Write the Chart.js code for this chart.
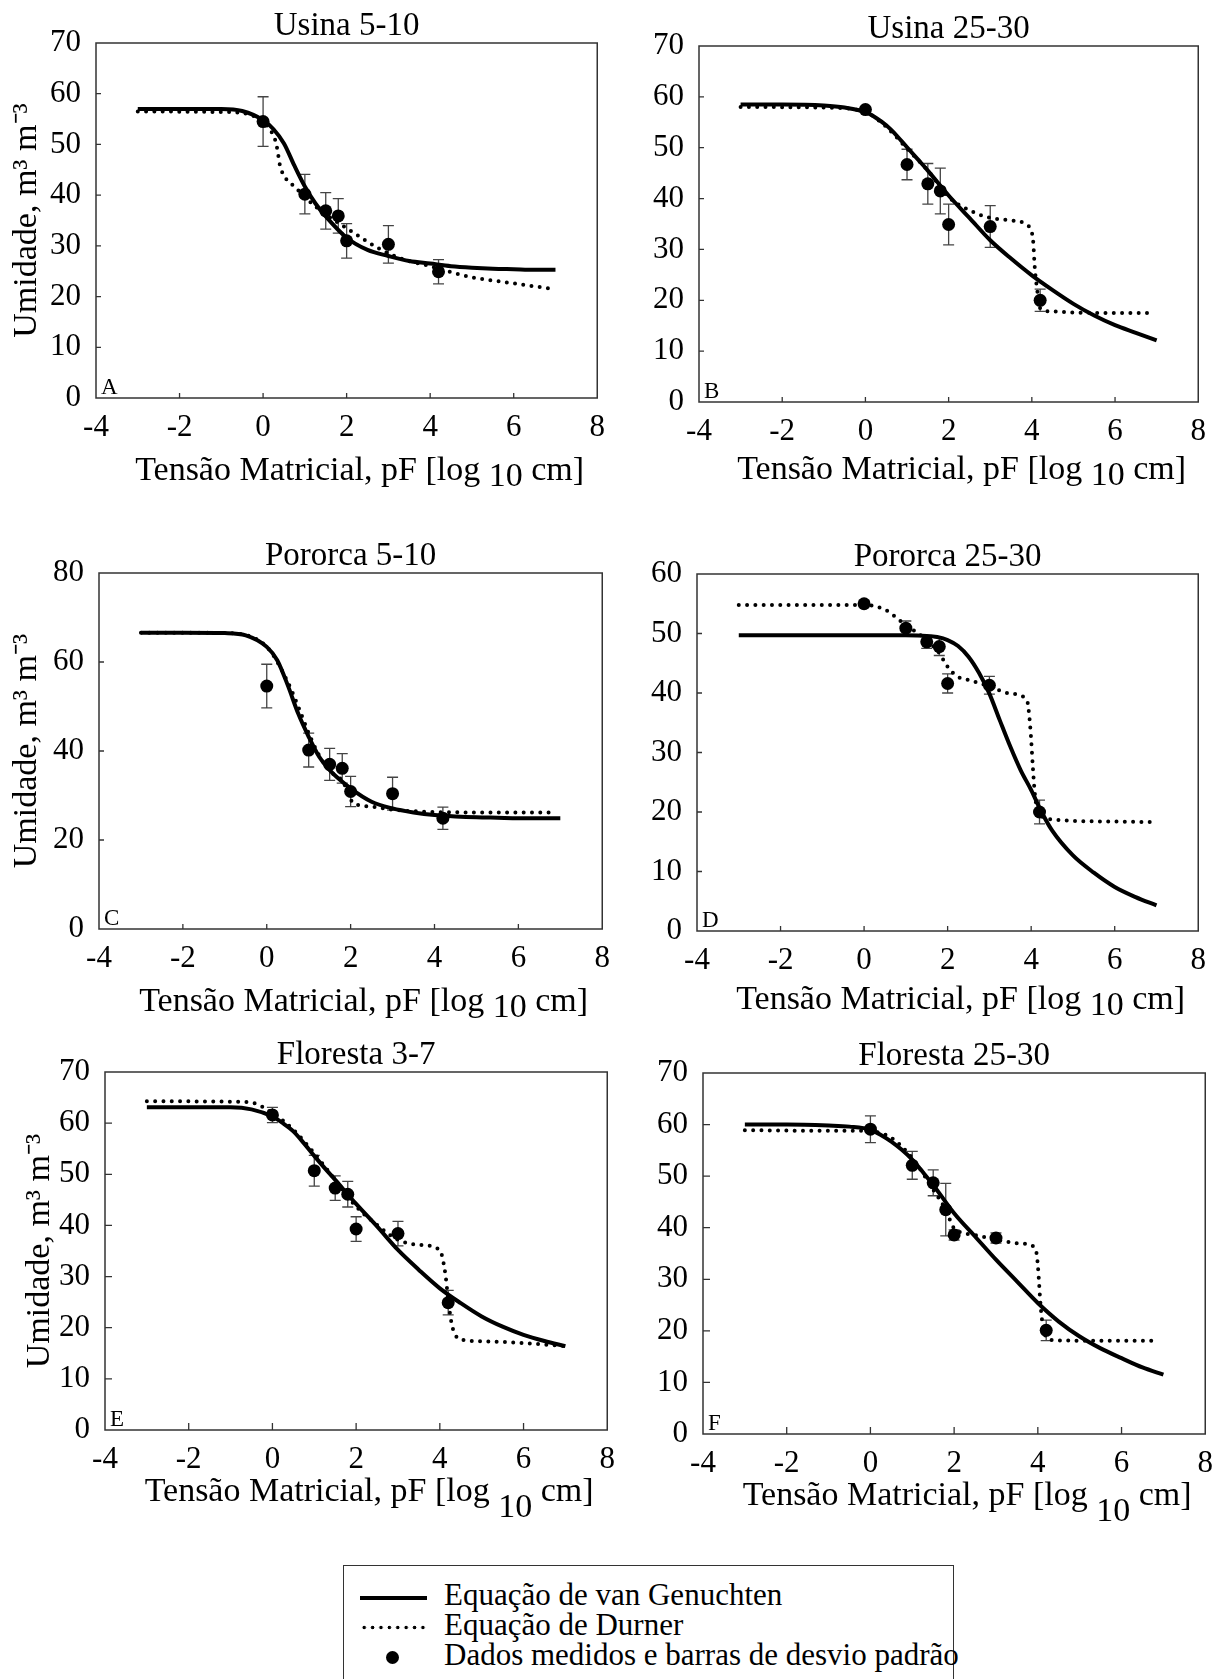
<!DOCTYPE html>
<html>
<head>
<meta charset="utf-8">
<script src="https://cdn.jsdelivr.net/npm/chart.js@4.4.1/dist/chart.umd.min.js"></script>
<style>
html,body{margin:0;padding:0;background:#fff;overflow:hidden}
#fig{position:relative;width:1225px;height:1679px;background:#fff;overflow:hidden;font-family:'Liberation Serif','Times New Roman',serif}
#fig canvas{position:absolute}
#legend{position:absolute;left:343px;top:1565px;width:611px;height:200px;border:1.5px solid #333;box-sizing:border-box}
#legend .lt{position:absolute;left:100px;font-size:31px;line-height:31px;white-space:nowrap;color:#000}
#legend .solid{position:absolute;left:15.5px;width:67px;height:4px;background:#000}
#legend .dotted{position:absolute;left:15.5px;width:67px;height:5px;background-image:radial-gradient(circle at center,#000 1.5px,rgba(0,0,0,0) 2.1px);background-size:8.4px 5px;background-repeat:repeat-x}
#legend .ldot{position:absolute;width:13px;height:13px;border-radius:50%;background:#000}
</style>
</head>
<body>
<div id="fig">
<canvas id="cA"></canvas>
<canvas id="cB"></canvas>
<canvas id="cC"></canvas>
<canvas id="cD"></canvas>
<canvas id="cE"></canvas>
<canvas id="cF"></canvas>
<div id="legend">
  <div class="solid" style="top:29.5px"></div>
  <div class="lt" style="top:13px">Equação de van Genuchten</div>
  <div class="dotted" style="top:59px"></div>
  <div class="lt" style="top:43px">Equação de Durner</div>
  <div class="ldot" style="left:42.3px;top:85px"></div>
  <div class="lt" style="top:73px">Dados medidos e barras de desvio padrão</div>
</div>
</div>
<script>
// ---------- data ----------
const pF = [0, 1, 1.5, 1.8, 2, 3, 4.2];
const xTickValues = [-4, -2, 0, 2, 4, 6, 8];
const yTicks70 = [0, 10, 20, 30, 40, 50, 60, 70];
const yTicks80 = [0, 20, 40, 60, 80];
const yTicks60 = [0, 10, 20, 30, 40, 50, 60];
const curveX = [-3, -2, -1, -0.5, 0, 0.25, 0.5, 0.75, 1, 1.25, 1.5, 2, 2.5, 3, 3.5, 4, 4.5, 5, 5.5, 6, 6.5, 7];

// A - Usina 5-10
const usina510Meas = [54.5, 40.2, 36.9, 35.9, 31.0, 30.3, 24.9];
const usina510Sd = [4.9, 3.9, 3.6, 3.4, 3.4, 3.7, 2.4];
const usina510VgY = [57.0, 57.0, 57.0, 56.6, 54.8, 53.0, 50.2, 45.8, 41.7, 38.4, 35.8, 31.6, 29.2, 28.0, 27.0, 26.5, 26.0, 25.7, 25.5, 25.4, 25.3, 25.3];
const usina510DuX = [-3, -1, -0.5, 0, 0.2, 0.3, 0.35, 0.4, 0.55, 0.75, 1, 1.5, 2, 2.5, 3, 3.5, 4, 4.5, 5, 6, 6.85];
const usina510DuY = [56.5, 56.4, 56.2, 54.5, 52.5, 50.6, 48.6, 46.0, 43.2, 41.7, 39.6, 36.2, 33.5, 30.8, 28.5, 27.0, 26.0, 24.8, 23.8, 22.6, 21.6];

// B - Usina 25-30
const usina2530Meas = [57.5, 46.7, 42.9, 41.5, 34.9, 34.5, 20.0];
const usina2530Sd = [0.5, 3.0, 4.0, 4.5, 4.0, 4.1, 2.2];
const usina2530VgY = [58.5, 58.5, 58.3, 57.9, 57.0, 55.9, 54.4, 52.4, 50.1, 47.8, 45.5, 40.6, 36.2, 31.8, 28.2, 24.9, 22.0, 19.3, 17.0, 15.1, 13.6, 12.1];
const usina2530DuX = [-3, -1, 0, 0.5, 1, 1.5, 2, 2.5, 3, 3.5, 3.8, 3.98, 4.03, 4.07, 4.12, 4.21, 4.5, 5, 6, 6.85];
const usina2530DuY = [58.0, 57.9, 57.0, 54.1, 49.8, 45.5, 40.3, 37.7, 36.2, 35.7, 35.2, 33.7, 31.8, 26.5, 22.6, 18.3, 17.8, 17.6, 17.5, 17.5];

// C - Pororca 5-10
const pororca510Meas = [54.6, 40.2, 37.0, 36.1, 30.9, 30.4, 24.9];
const pororca510Sd = [4.9, 3.8, 3.6, 3.3, 3.4, 3.7, 2.5];
const pororca510VgY = [66.6, 66.6, 66.5, 66.0, 63.4, 60.4, 54.8, 48.4, 43.2, 38.7, 35.7, 31.6, 28.6, 27.1, 26.2, 25.6, 25.3, 25.1, 25.0, 24.9, 24.9, 24.9];
const pororca510DuX = [-3, -1, 0, 0.5, 0.75, 1, 1.25, 1.5, 1.8, 1.95, 2.05, 2.5, 3, 4, 5, 6, 6.9];
const pororca510DuY = [66.6, 66.5, 63.4, 55.5, 50.0, 44.0, 39.0, 35.5, 33.3, 30.5, 28.4, 27.5, 26.8, 26.3, 26.2, 26.2, 26.2];

// D - Pororca 25-30
const pororca2530Meas = [55.0, 50.9, 48.6, 47.8, 41.6, 41.3, 20.0];
const pororca2530Sd = [0.5, 1.2, 1.1, 1.5, 1.6, 1.5, 2.0];
const pororca2530VgX = [-3, -1, 0, 1, 1.5, 1.75, 2, 2.25, 2.5, 2.75, 3, 3.25, 3.5, 3.75, 4, 4.25, 4.5, 5, 5.5, 6, 6.5, 7];
const pororca2530VgY = [49.7, 49.7, 49.7, 49.7, 49.6, 49.4, 48.9, 47.9, 46.1, 43.4, 39.9, 35.4, 31.0, 27.0, 23.7, 20.0, 16.9, 12.7, 9.8, 7.4, 5.7, 4.3];
const pororca2530DuX = [-3, -1, 0, 0.5, 1, 1.5, 1.8, 2, 2.25, 2.5, 3, 3.5, 3.9, 3.94, 3.99, 4.04, 4.08, 4.13, 4.27, 4.6, 5, 6, 6.95];
const pororca2530DuY = [54.8, 54.8, 54.8, 54.0, 51.4, 48.9, 46.7, 44.4, 42.7, 42.2, 41.1, 39.9, 38.8, 37.1, 33.2, 27.6, 23.7, 20.9, 19.2, 18.7, 18.5, 18.4, 18.3];

// E - Floresta 3-7
const floresta37Meas = [61.6, 50.7, 47.3, 46.1, 39.3, 38.4, 24.9];
const floresta37Sd = [1.5, 3.0, 2.4, 2.5, 2.4, 2.4, 2.4];
const floresta37VgY = [63.1, 63.1, 63.1, 62.7, 61.3, 60.0, 58.4, 56.1, 53.6, 51.2, 48.9, 44.2, 39.8, 35.2, 31.3, 27.7, 24.8, 22.2, 20.2, 18.6, 17.4, 16.4];
const floresta37DuX = [-3, -1, -0.5, 0, 0.5, 1, 1.5, 2, 2.5, 3, 3.5, 4.0, 4.09, 4.14, 4.2, 4.28, 4.37, 4.56, 5.2, 6, 7];
const floresta37DuY = [64.3, 64.2, 64.0, 62.0, 58.7, 54.1, 48.9, 43.7, 40.1, 37.2, 36.2, 35.2, 32.6, 30.0, 25.5, 20.9, 18.6, 17.6, 17.3, 17.0, 16.4];

// F - Floresta 25-30
const floresta2530Meas = [59.1, 52.1, 48.7, 43.5, 38.6, 38.0, 20.1];
const floresta2530Sd = [2.6, 2.7, 2.5, 5.1, 1.0, 1.0, 2.0];
const floresta2530VgY = [60.0, 60.0, 59.8, 59.6, 59.0, 58.0, 56.7, 55.1, 53.2, 50.8, 48.3, 42.8, 38.3, 33.8, 29.6, 25.4, 21.8, 18.9, 16.6, 14.7, 12.9, 11.5];
const floresta2530DuX = [-3, -1, -0.5, 0, 0.5, 1, 1.5, 1.8, 2, 2.5, 3, 3.5, 3.93, 3.98, 4.02, 4.05, 4.09, 4.16, 4.35, 5, 6, 6.85];
const floresta2530DuY = [58.9, 58.8, 58.8, 58.7, 57.4, 53.5, 47.4, 43.5, 39.9, 38.6, 37.7, 37.0, 36.2, 34.4, 30.5, 26.7, 22.8, 19.5, 18.2, 18.1, 18.1, 18.1];

const titles = ['Usina 5-10', 'Usina 25-30', 'Pororca 5-10', 'Pororca 25-30', 'Floresta 3-7', 'Floresta 25-30'];
const letters = ['A', 'B', 'C', 'D', 'E', 'F'];
const yAxisTitle = 'Umidade, m³ m⁻³';
const xTitleParts = ['Tensão Matricial, pF [log ', '10', ' cm]'];

// ---------- layout (pixels) ----------
const FONT = "'Liberation Serif','Times New Roman',serif";
Chart.defaults.font.family = FONT;
Chart.defaults.color = '#000';

const panels = [
  {id:'cA', t:0, meas:usina510Meas, sd:usina510Sd, vgX:curveX, vgY:usina510VgY, duX:usina510DuX, duY:usina510DuY, yt:yTicks70,
   box:{l:95.7,t:43.3,r:602.2,b:397.7}, yTitle:true, yTitleCx:27.7, xBase:82.3, sub:6, tl:5, right:false},
  {id:'cB', t:1, meas:usina2530Meas, sd:usina2530Sd, vgX:curveX, vgY:usina2530VgY, duX:usina2530DuX, duY:usina2530DuY, yt:yTicks70,
   box:{l:699.4,t:45.7,r:1205,b:401.7}, yTitle:false, xBase:76.6, sub:6, tl:5, right:true},
  {id:'cC', t:2, meas:pororca510Meas, sd:pororca510Sd, vgX:curveX, vgY:pororca510VgY, duX:pororca510DuX, duY:pororca510DuY, yt:yTicks80,
   box:{l:98.9,t:572.7,r:607,b:929.3}, yTitle:true, yTitleCx:27.7, xBase:82.4, sub:6, tl:5, right:false},
  {id:'cD', t:3, meas:pororca2530Meas, sd:pororca2530Sd, vgX:pororca2530VgX, vgY:pororca2530VgY, duX:pororca2530DuX, duY:pororca2530DuY, yt:yTicks60,
   box:{l:697.1,t:574,r:1205.4,b:930.7}, yTitle:false, xBase:77.6, sub:6, tl:5, right:true},
  {id:'cE', t:4, meas:floresta37Meas, sd:floresta37Sd, vgX:curveX, vgY:floresta37VgY, duX:floresta37DuX, duY:floresta37DuY, yt:yTicks70,
   box:{l:104.8,t:1072.3,r:612.1,b:1429.5}, yTitle:true, yTitleCx:40.5, xBase:70.5, sub:16, tl:7, right:false},
  {id:'cF', t:5, meas:floresta2530Meas, sd:floresta2530Sd, vgX:curveX, vgY:floresta2530VgY, duX:floresta2530DuX, duY:floresta2530DuY, yt:yTicks70,
   box:{l:703.3,t:1073.3,r:1212,b:1434}, yTitle:false, xBase:71, sub:16, tl:7, right:true}
];

function pts(xs, ys) { return xs.map((x, i) => ({x: x, y: ys[i]})); }

function makePanel(p) {
  const canvas = document.getElementById(p.id);
  const titleH = 34, Hx = 100, padR = p.right ? 12 : 14;
  const bl = Math.round(p.box.l), bt = Math.round(p.box.t), br = Math.round(p.box.r), bb = Math.round(p.box.b);
  const left = p.yTitle ? Math.round(p.yTitleCx - 20.4) : bl - 60;
  const top = bt - titleH;
  const Wy = bl - left;
  canvas.width = Wy + (br - bl) + padR;
  canvas.height = titleH + (bb - bt) + Hx;
  canvas.style.left = left + 'px';
  canvas.style.top = top + 'px';

  const decor = {
    id: 'decor' + p.id,
    beforeDatasetsDraw(chart) {
      const {ctx, scales: {x, y}} = chart;
      ctx.save();
      ctx.strokeStyle = '#444';
      ctx.lineWidth = 1.3;
      ctx.beginPath();
      pF.forEach((xv, i) => {
        const px = x.getPixelForValue(xv);
        const pt = y.getPixelForValue(p.meas[i] + p.sd[i]);
        const pb = y.getPixelForValue(p.meas[i] - p.sd[i]);
        ctx.moveTo(px, pt); ctx.lineTo(px, pb);
        ctx.moveTo(px - 5.5, pt); ctx.lineTo(px + 5.5, pt);
        ctx.moveTo(px - 5.5, pb); ctx.lineTo(px + 5.5, pb);
      });
      ctx.stroke();
      ctx.restore();
    },
    afterDraw(chart) {
      const {ctx, chartArea: a, scales: {x, y}} = chart;
      ctx.save();
      ctx.strokeStyle = '#333';
      ctx.lineWidth = 1.5;
      ctx.strokeRect(a.left, a.top, a.right - a.left, a.bottom - a.top);
      ctx.lineWidth = 1.3;
      ctx.beginPath();
      xTickValues.forEach(v => {
        if (v > x.min && v < x.max) { const px = x.getPixelForValue(v); ctx.moveTo(px, a.bottom); ctx.lineTo(px, a.bottom - p.tl); }
      });
      p.yt.forEach(v => {
        if (v > y.min && v < y.max) { const py = y.getPixelForValue(v); ctx.moveTo(a.left, py); ctx.lineTo(a.left + p.tl, py); }
      });
      ctx.stroke();
      ctx.fillStyle = '#000';
      ctx.textAlign = 'left';
      ctx.textBaseline = 'alphabetic';
      ctx.font = '23px ' + FONT;
      ctx.fillText(letters[p.t], a.left + 5, a.bottom - 4);
      ctx.font = '34px ' + FONT;
      const w = xTitleParts.map(s => ctx.measureText(s).width);
      const total = w[0] + w[1] + w[2];
      let sx = (a.left + a.right) / 2 + 13 - total / 2;
      const base = a.bottom + p.xBase;
      ctx.fillText(xTitleParts[0], sx, base); sx += w[0];
      ctx.fillText(xTitleParts[1], sx, base + p.sub); sx += w[1];
      ctx.fillText(xTitleParts[2], sx, base);
      ctx.restore();
    }
  };

  return new Chart(canvas, {
    type: 'scatter',
    data: {
      datasets: [
        { label: 'Dados medidos e barras de desvio padrão', data: pts(pF, p.meas), pointRadius: 6.5, pointBackgroundColor: '#000', pointBorderWidth: 0, showLine: false },
        { label: 'Equação de van Genuchten', data: pts(p.vgX, p.vgY), showLine: true, pointRadius: 0, borderColor: '#000', borderWidth: 4, cubicInterpolationMode: 'monotone', fill: false },
        { label: 'Equação de Durner', data: pts(p.duX, p.duY), showLine: true, pointRadius: 0, borderColor: '#000', borderWidth: 4, borderDash: [0, 8.3], borderCapStyle: 'round', cubicInterpolationMode: 'monotone', fill: false }
      ]
    },
    options: {
      responsive: false,
      devicePixelRatio: 1,
      animation: false,
      events: [],
      layout: { padding: { left: 0, right: padR, top: 0, bottom: 0 } },
      plugins: {
        legend: { display: false },
        tooltip: { enabled: false },
        title: { display: true, text: titles[p.t], fullSize: false, color: '#000', font: { size: 33, lineHeight: '34px', weight: 'normal' }, padding: 0 }
      },
      scales: {
        x: {
          type: 'linear', min: xTickValues[0], max: xTickValues[xTickValues.length - 1],
          afterBuildTicks: s => { s.ticks = xTickValues.map(v => ({value: v})); },
          afterFit: s => { s.height = Hx; },
          grid: { display: false, drawTicks: false }, border: { display: false },
          ticks: { font: { size: 31 }, color: '#000', padding: 11, maxRotation: 0, autoSkip: false }
        },
        y: {
          type: 'linear', min: p.yt[0], max: p.yt[p.yt.length - 1],
          afterBuildTicks: s => { s.ticks = p.yt.map(v => ({value: v})); },
          afterFit: s => { s.width = Wy; },
          grid: { display: false, drawTicks: false }, border: { display: false },
          ticks: { font: { size: 31 }, color: '#000', padding: 15, autoSkip: false },
          title: { display: p.yTitle, text: yAxisTitle, color: '#000', font: { size: 34 }, padding: 0 }
        }
      }
    },
    plugins: [decor]
  });
}

panels.forEach(makePanel);
</script>
</body>
</html>
